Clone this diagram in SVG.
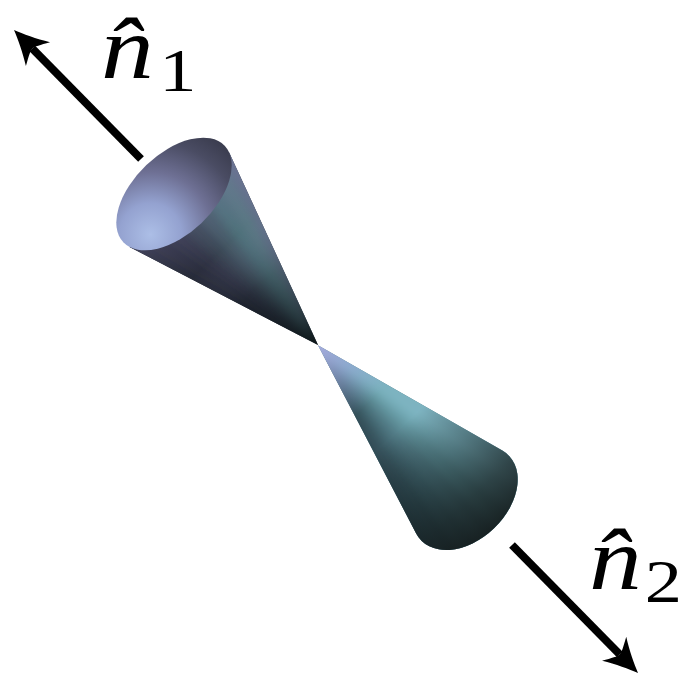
<svg xmlns="http://www.w3.org/2000/svg" width="684" height="677" viewBox="0 0 684 677">
<style>
  text.lbl { font-family: 'Liberation Serif', 'Times New Roman', serif; fill: #000; }
  .var { font-style: italic; font-size: 88px; }
  .sub { font-style: normal; font-size: 62px; }
  .shaft { stroke: #000; stroke-width: 8; fill: none; }
  .head { fill: #000; }
</style>
<defs>
  <filter id="soft" x="-20%" y="-20%" width="140%" height="140%">
    <feGaussianBlur stdDeviation="5"/>
  </filter>
  <!-- lengthwise tint / darkening of the upper cone (local y: rim 0 → apex 209) -->
  <linearGradient id="upShade" gradientUnits="userSpaceOnUse" x1="0" y1="0" x2="0" y2="209">
    <stop offset="0" stop-color="rgb(128,122,170)" stop-opacity="0.38"/>
    <stop offset="0.15" stop-color="rgb(128,122,170)" stop-opacity="0.2"/>
    <stop offset="0.35" stop-color="rgb(128,122,170)" stop-opacity="0"/>
    <stop offset="0.6" stop-color="rgb(0,10,10)" stop-opacity="0.2"/>
    <stop offset="0.85" stop-color="rgb(5,15,15)" stop-opacity="0.55"/>
    <stop offset="1" stop-color="rgb(5,15,15)" stop-opacity="0.85"/>
  </linearGradient>
  <!-- inside surface seen through the opening -->
  <radialGradient id="upInside" gradientUnits="userSpaceOnUse" cx="-45" cy="13" r="125">
    <stop offset="0" stop-color="rgb(172,190,230)"/>
    <stop offset="0.25" stop-color="rgb(148,162,208)"/>
    <stop offset="0.5" stop-color="rgb(110,112,148)"/>
    <stop offset="0.75" stop-color="rgb(74,76,99)"/>
    <stop offset="1" stop-color="rgb(52,54,70)"/>
  </radialGradient>
  <!-- lengthwise tint / darkening of the lower cone (local y: apex -212 → base 42) -->
  <linearGradient id="lowShade" gradientUnits="userSpaceOnUse" x1="0" y1="-212" x2="0" y2="42">
    <stop offset="0" stop-color="rgb(172,176,228)" stop-opacity="0.95"/>
    <stop offset="0.146" stop-color="rgb(160,170,225)" stop-opacity="0.55"/>
    <stop offset="0.303" stop-color="rgb(150,170,220)" stop-opacity="0"/>
    <stop offset="0.46" stop-color="rgb(0,0,0)" stop-opacity="0"/>
    <stop offset="0.657" stop-color="rgb(10,20,20)" stop-opacity="0.35"/>
    <stop offset="0.854" stop-color="rgb(15,22,22)" stop-opacity="0.7"/>
    <stop offset="1" stop-color="rgb(15,20,20)" stop-opacity="0.88"/>
  </linearGradient>
  <clipPath id="upClip"><path d="M-68.7,7.67 L0,208.7 L68.7,7.67 Z"/></clipPath>
  <clipPath id="lowClip"><path d="M59.8,-8.3 L0,-212 L-59.8,-8.3 A61 42 0 1 0 59.8,-8.3 Z"/></clipPath>
  <path id="headShape" d="M0,0 C-9,3.5 -22,9.5 -34,17 C-29,8 -26,3 -26,0 C-26,-3 -29,-8 -34,-17 C-22,-9.5 -9,-3.5 0,0 Z"/>
</defs>

<rect width="684" height="677" fill="#fff"/>

<!-- upper cone: opening toward n1, seen from inside -->
<g id="cone-upper" transform="translate(174,194) rotate(-43.64)">
  <path d="M-68.7,7.67 L0,208.7 L68.7,7.67 Z" fill="#2f3440"/>
  <g clip-path="url(#upClip)">
    <g filter="url(#soft)">
      <polygon points="0,208.7 -134.5,-60 -80.7,-60" fill="#282b38"/>
      <polygon points="0,208.7 -80.7,-60 -53.8,-60" fill="#2b2e3c"/>
      <polygon points="0,208.7 -53.8,-60 -26.9,-60" fill="#303646"/>
      <polygon points="0,208.7 -26.9,-60 0,-60" fill="#3a4655"/>
      <polygon points="0,208.7 0,-60 26.9,-60" fill="#465c69"/>
      <polygon points="0,208.7 26.9,-60 53.8,-60" fill="#50727c"/>
      <polygon points="0,208.7 53.8,-60 80.7,-60" fill="#5a7884"/>
      <polygon points="0,208.7 80.7,-60 134.5,-60" fill="#64708a"/>
    </g>
  </g>
  <path d="M-68.7,7.67 L0,208.7 L68.7,7.67 Z" fill="url(#upShade)"/>
  <ellipse rx="70" ry="40" fill="url(#upInside)"/>
</g>

<!-- lower cone: closed side toward n2 -->
<g id="cone-lower" transform="translate(465,498) rotate(-43.9)">
  <path d="M59.8,-8.3 L0,-212 L-59.8,-8.3 A61 42 0 1 0 59.8,-8.3 Z" fill="#4f7a84"/>
  <g clip-path="url(#lowClip)">
    <g filter="url(#soft)">
      <polygon points="0,-212 -131.4,80 -73,80" fill="#304b55"/>
      <polygon points="0,-212 -73,80 -49.6,80" fill="#37555f"/>
      <polygon points="0,-212 -49.6,80 -26.3,80" fill="#446973"/>
      <polygon points="0,-212 -26.3,80 0,80" fill="#527d87"/>
      <polygon points="0,-212 0,80 26.3,80" fill="#62949e"/>
      <polygon points="0,-212 26.3,80 49.6,80" fill="#73aab6"/>
      <polygon points="0,-212 49.6,80 73,80" fill="#80b7c4"/>
      <polygon points="0,-212 73,80 131.4,80" fill="#7db2c0"/>
    </g>
  </g>
  <path d="M59.8,-8.3 L0,-212 L-59.8,-8.3 A61 42 0 1 0 59.8,-8.3 Z" fill="url(#lowShade)"/>
</g>

<!-- direction arrows -->
<g id="connectors">
  <g id="arrow-n1">
    <line class="shaft" x1="141" y1="159" x2="32.3" y2="48.5"/>
    <use href="#headShape" class="head" transform="translate(14,30) rotate(-134.8)"/>
  </g>
  <g id="arrow-n2">
    <line class="shaft" x1="512" y1="545" x2="619.8" y2="654.5"/>
    <use href="#headShape" class="head" transform="translate(638,673) rotate(45.45)"/>
  </g>
</g>

<!-- labels: unit vectors n-hat with subscripts -->
<g id="label-n1">
  <text class="lbl" font-family="'Liberation Serif', serif" transform="translate(101,78) scale(1.2,1)"><tspan class="var" x="0" y="0">n̂</tspan><tspan class="sub" x="64" y="13" text-anchor="middle">1</tspan></text>
</g>
<g id="label-n2">
  <text class="lbl" font-family="'Liberation Serif', serif" transform="translate(589,589) scale(1.2,1)"><tspan class="var" x="0" y="0">n̂</tspan><tspan class="sub" x="62" y="13" text-anchor="middle">2</tspan></text>
</g>
</svg>
